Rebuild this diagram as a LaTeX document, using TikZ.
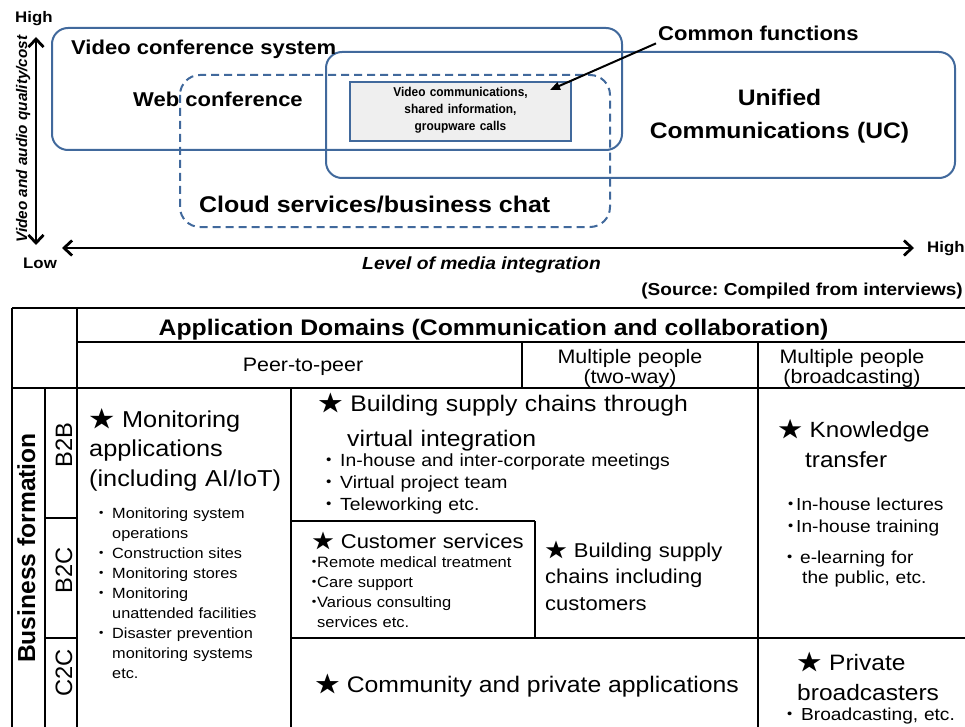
\documentclass[tikz,border=0pt]{standalone}
\usepackage{fontspec}
\setmainfont{Liberation Sans}[FakeStretch=1.1]
\newfontfamily\uprightsans{Liberation Sans}
\newfontfamily\narrowsans{Liberation Sans}[FakeStretch=0.93]
\newfontfamily\cjk{Noto Sans CJK JP}[FakeStretch=1.1]
\usetikzlibrary{arrows.meta}

\newcommand\fs[2]{\fontsize{#1}{#2}\selectfont}
\newcommand\blackstar{{\cjk ★}}
\newcommand\dotb[1]{\makebox[#1][c]{\cjk ・}}

\definecolor{boxblue}{HTML}{41699C}
\definecolor{boxgray}{HTML}{EFEFEF}

\tikzset{
  lbl/.style={inner sep=0pt, anchor=base west},
  lblc/.style={inner sep=0pt, anchor=base},
  ml/.style={inner sep=0pt, anchor=base west, align=left, text width=#1},
  mlc/.style={inner sep=0pt, anchor=base, align=center, text width=#1},
  areabox/.style={draw=boxblue, line width=2pt, rounded corners=16pt},
  axisline/.style={line width=2.8pt,
    {Straight Barb[length=8pt,width=15pt]}-{Straight Barb[length=8pt,width=15pt]}},
  gridline/.style={line width=2.3pt},
  vlabel/.style={rotate=90, inner sep=0pt, anchor=base},
}

\begin{document}
\frenchspacing
\begin{tikzpicture}[x=1pt,y=-1pt]
\useasboundingbox (0,0) rectangle (965,727);

% ---------- positioning chart ----------
\coordinate (ytop) at (36,37);
\coordinate (ybot) at (36,245);
\coordinate (xleft) at (62,248);
\coordinate (xright) at (914,248);
\draw[axisline] (ybot) -- (ytop);
\draw[axisline] (xleft) -- (xright);

\node[lbl, font=\fs{15.3}{18}\bfseries] (yhigh) at (15,23) {High};
\node[lbl, font=\fs{15.3}{18}\bfseries] (xlow) at (23,268) {Low};
\node[lbl, font=\fs{15.3}{18}\bfseries] (xhigh) at (927,252) {High};
\node[lblc, font=\fs{17.5}{20}\bfseries\itshape] (xlabel) at (481.5,269) {Level of media integration};
\node[vlabel, font=\uprightsans\fs{15.3}{18}\bfseries\itshape] (ylabel) at (27,139) {Video and audio quality/cost};

% solution areas
\draw[areabox] (52,28) rectangle (622,150);
\draw[areabox] (326,52) rectangle (955,178);
\draw[areabox, rounded corners=20pt, dash pattern=on 8pt off 5pt] (180,75) rectangle (610,227);

\node[draw=boxblue, line width=2pt, fill=boxgray, minimum width=221pt, minimum height=59pt, inner sep=0pt] (common) at (460.5,111.5) {};
\node[mlc=215pt, font=\narrowsans\fs{12.8}{17}\bfseries] (commontext) at (460.5,97) {Video communications,\\shared information,\\groupware calls};

\node[lbl, font=\fs{20}{24}\bfseries] (vcs) at (71,55) {Video conference system};
\node[lbl, font=\fs{20}{24}\bfseries] (web) at (133,107) {Web conference};
\node[lbl, font=\fs{22.7}{26}\bfseries] (cloud) at (199,213) {Cloud services/business chat};
\node[mlc=300pt, font=\fs{22.4}{33}\bfseries] (uc) at (779.5,106) {Unified\\Communications (UC)};
\node[lbl, inner sep=2pt, font=\fs{20}{24}\bfseries] (cf) at (656,41) {Common functions};
\coordinate (cftip) at (550,90);
\draw[line width=2pt, -{Triangle[length=10pt,width=8pt]}] (cf.south west) -- (cftip);

% ---------- application table ----------
\node[inner sep=0pt, anchor=base east, font=\fs{17.3}{20}\bfseries] (source) at (963,295) {(Source: Compiled from interviews)};

\draw[line width=2.8pt] (12,308) -- (965,308);
\draw[gridline] (12,308) -- (12,727);
\draw[gridline] (77,308) -- (77,727);
\draw[gridline] (77,342) -- (965,342);
\draw[gridline] (522,342) -- (522,388);
\draw[gridline] (758,342) -- (758,727);
\draw[gridline] (12,388) -- (965,388);
\draw[gridline] (45,388) -- (45,727);
\draw[gridline] (45,518) -- (77,518);
\draw[gridline] (45,638) -- (77,638);
\draw[gridline] (291,388) -- (291,727);
\draw[gridline] (291,521) -- (535,521);
\draw[gridline] (535,521) -- (535,638);
\draw[gridline] (291,638) -- (965,638);

\node[lblc, font=\fs{22.5}{27}\bfseries] (domains) at (493.5,335) {Application Domains (Communication and collaboration)};
\node[lblc, font=\fs{19.5}{23}] (p2p) at (303,371) {Peer-to-peer};
\node[mlc=200pt, font=\fs{19.5}{20}] (twoway) at (630,363) {Multiple people\\(two-way)};
\node[mlc=200pt, font=\fs{19.5}{20}] (bcast) at (852,363) {Multiple people\\(broadcasting)};

\node[vlabel, font=\uprightsans\fs{24.6}{28}\bfseries] (bizform) at (35,548) {Business formation};
\node[vlabel, font=\uprightsans\fs{23.7}{28}] (b2b) at (72,445) {B2B};
\node[vlabel, font=\uprightsans\fs{23.7}{28}] (b2c) at (72,570) {B2C};
\node[vlabel, font=\uprightsans\fs{23.7}{28}] (c2c) at (72,673) {C2C};

% monitoring applications
\node[ml=200pt, font=\fs{23}{29.5}] (mon) at (89,427) {\blackstar\ Monitoring\\applications\\(including AI/IoT)};
\node[ml=200pt, font=\fs{14.8}{20}] (monlist) at (90,518) {\dotb{22pt}Monitoring system\\\hspace*{22pt}operations\\\dotb{22pt}Construction sites\\\dotb{22pt}Monitoring stores\\\dotb{22pt}Monitoring\\\hspace*{22pt}unattended facilities\\\dotb{22pt}Disaster prevention\\\hspace*{22pt}monitoring systems\\\hspace*{22pt}etc.};

% supply chains through virtual integration
\node[ml=440pt, font=\fs{22.5}{35}] (virt) at (318,411) {\blackstar\ Building supply chains through\\\hspace*{29pt}virtual integration};
\node[ml=440pt, font=\fs{17.6}{22}] (virtlist) at (318,466) {\dotb{22pt}In-house and inter-corporate meetings\\\dotb{22pt}Virtual project team\\\dotb{22pt}Teleworking etc.};

% customer services
\node[ml=230pt, font=\fs{20}{24}] (cust) at (312,548) {\blackstar\ Customer services};
\node[ml=220pt, font=\fs{15}{20}] (custlist) at (311,567) {\dotb{6pt}Remote medical treatment\\\dotb{6pt}Care support\\\dotb{6pt}Various consulting\\\hspace*{6pt}services etc.};

% supply chains including customers
\node[ml=210pt, font=\fs{20}{26.5}] (incl) at (545,557) {\blackstar\ Building supply\\chains including\\customers};

% knowledge transfer
\node[ml=185pt, font=\fs{22}{30}] (know) at (778,437) {\blackstar\ Knowledge\\\hspace*{27pt}transfer};
\node[ml=180pt, font=\fs{17.4}{22}] (knowlist) at (786,510) {\dotb{10pt}In-house lectures\\\dotb{10pt}In-house training};
\node[ml=180pt, font=\fs{17.4}{20}] (elearn) at (786,563) {\dotb{8pt}\hspace{6pt}e-learning for\\\hspace*{16pt}the public, etc.};

% community and private applications
\node[lbl, font=\fs{22.5}{27}] (community) at (315,692) {\blackstar\ Community and private applications};

% private broadcasters
\node[ml=180pt, font=\fs{22.3}{30}] (private) at (797,670) {\blackstar\ Private\\broadcasters};
\node[ml=180pt, font=\fs{17.4}{20}] (privlist) at (786,720) {\dotb{8pt}\hspace{7pt}Broadcasting, etc.};
\end{tikzpicture}
\end{document}
